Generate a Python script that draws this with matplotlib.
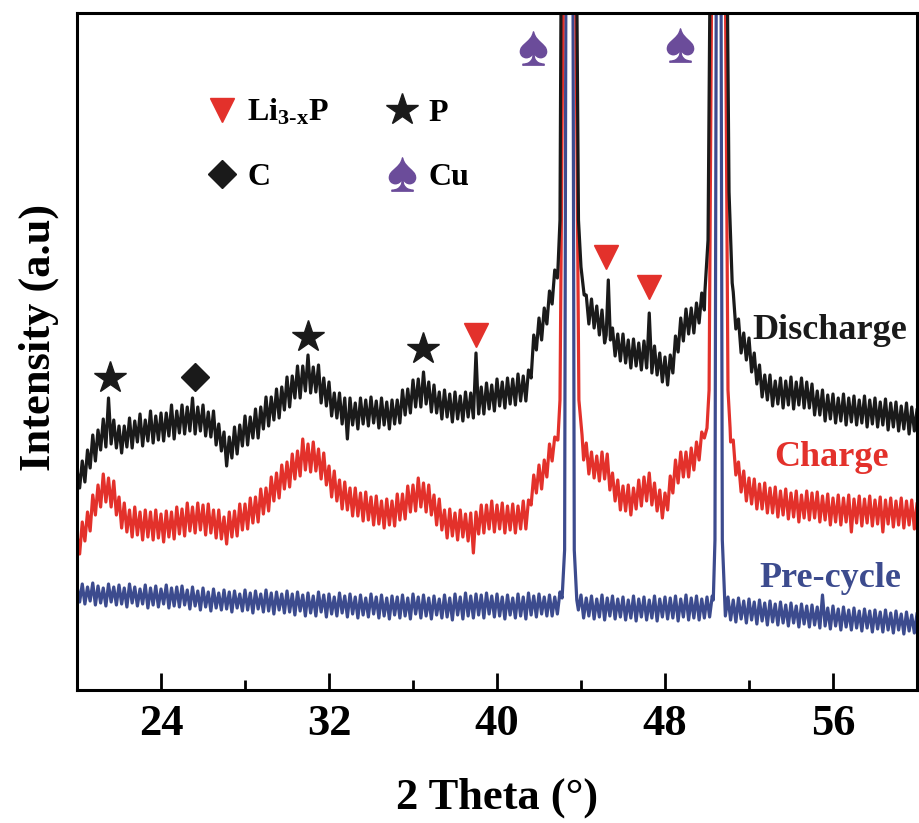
import numpy as np
import matplotlib.pyplot as plt
from matplotlib.lines import Line2D

plt.rcParams['font.family'] = 'Liberation Serif'
plt.rcParams['font.weight'] = 'bold'
plt.rcParams['axes.labelweight'] = 'bold'
plt.rcParams['mathtext.fontset'] = 'custom'
plt.rcParams['mathtext.rm'] = 'Liberation Serif:bold'
plt.rcParams['mathtext.it'] = 'Liberation Serif:bold'
plt.rcParams['mathtext.bf'] = 'Liberation Serif:bold'

# 2 theta (deg): top of the noise band read every 0.25 deg,
# bottom of the band read half way between
two_theta = np.arange(20.0, 60.001, 0.25)
two_theta_mid = two_theta[:-1] + 0.125

# intensities (arbitrary units, traces stacked)
discharge_top = [
    221, 229, 240, 255, 260, 271, 292, 270,   # 20.00
    264, 264, 272, 269, 276, 270, 279, 274,   # 22.00
    277, 277, 285, 279, 285, 283, 292, 283,   # 24.00
    285, 278, 279, 266, 258, 253, 263, 265,   # 26.00
    274, 273, 281, 283, 293, 293, 301, 303,   # 28.00
    313, 314, 324, 324, 335, 323, 325, 312,   # 30.00
    308, 297, 297, 292, 292, 287, 292, 290,   # 32.00
    293, 289, 292, 288, 290, 290, 300, 301,   # 34.00
    310, 311, 318, 308, 305, 298, 300, 296,   # 36.00
    298, 294, 298, 297, 298, 303, 307, 305,   # 38.00
    311, 308, 312, 311, 316, 314, 320, 355,   # 40.00
    372, 382, 399, 420, 600, 1200, 1200, 600,  # 42.00
    428, 395, 391, 384, 380, 364, 362, 356,   # 44.00
    356, 350, 351, 347, 349, 343, 344, 337,   # 46.00
    333, 335, 354, 372, 381, 382, 387, 397,   # 48.00
    500, 1200, 1500, 1200, 600, 398, 371, 357,  # 50.00
    352, 337, 325, 315, 315, 309, 312, 309,   # 52.00
    313, 308, 312, 308, 306, 299, 300, 295,   # 54.00
    296, 292, 296, 292, 294, 290, 294, 290,   # 56.00
    292, 288, 291, 287, 288, 284, 287, 283,   # 58.00
    280,
]
discharge_bottom = [
    202, 208, 222, 229, 240, 243, 246, 242,   # 20.125
    237, 243, 242, 248, 244, 249, 247, 250,
    249, 254, 251, 257, 256, 259, 256, 259,
    254, 253, 245, 239, 224, 232, 236, 244,
    245, 252, 252, 261, 264, 270, 272, 280,
    283, 292, 292, 299, 297, 298, 287, 284,
    274, 272, 266, 251, 265, 261, 266, 264,
    267, 262, 265, 261, 266, 267, 275, 277,
    283, 283, 286, 278, 277, 271, 273, 268,
    271, 269, 273, 272, 276, 276, 281, 279,
    284, 282, 286, 285, 289, 289, 312, 340,
    350, 366, 386, 412, 800, 1500, 800, 470,
    400, 366, 362, 355, 347, 350, 334, 329,
    327, 322, 324, 320, 322, 317, 315, 308,
    305, 317, 338, 349, 356, 357, 367, 380,
    900, 1500, 1500, 900, 460, 361, 337, 330,
    318, 306, 293, 290, 284, 286, 282, 285,
    281, 285, 282, 282, 275, 275, 269, 271,
    267, 269, 265, 268, 265, 267, 263, 266,
    263, 265, 260, 263, 259, 261, 256, 259,
]
charge_top = [
    155, 168, 178, 195, 205, 216, 212, 209,
    193, 187, 180, 183, 178, 180, 178, 180,
    176, 179, 178, 183, 181, 187, 183, 187,
    185, 186, 180, 180, 173, 178, 179, 186,
    186, 192, 193, 201, 202, 213, 217, 225,
    228, 236, 239, 251, 246, 248, 241, 237,
    224, 219, 210, 208, 202, 202, 197, 198,
    193, 194, 189, 191, 189, 196, 196, 204,
    205, 212, 207, 205, 195, 191, 180, 181,
    177, 180, 176, 177, 178, 185, 185, 189,
    185, 187, 184, 186, 184, 189, 190, 215,
    225, 230, 246, 253, 290, 1200, 1500, 1200,
    300, 247, 238, 234, 238, 236, 217, 210,
    204, 205, 202, 210, 213, 217, 207, 200,
    197, 214, 230, 238, 238, 242, 248, 258,
    262, 1000, 1500, 1000, 400, 250, 228, 219,
    212, 211, 206, 207, 202, 203, 199, 201,
    197, 199, 195, 199, 197, 198, 194, 196,
    192, 195, 192, 195, 191, 194, 191, 194,
    190, 193, 190, 192, 189, 192, 189, 190,
    186,
]
charge_bottom = [
    136, 149, 159, 175, 183, 188, 183, 175,
    162, 158, 153, 155, 150, 153, 150, 152,
    148, 153, 151, 156, 154, 159, 157, 160,
    155, 157, 152, 151, 146, 153, 154, 160,
    161, 167, 168, 176, 179, 189, 192, 201,
    203, 211, 214, 220, 218, 219, 211, 205,
    193, 189, 181, 180, 174, 174, 169, 170,
    165, 166, 162, 165, 164, 170, 171, 178,
    179, 183, 178, 175, 165, 160, 152, 154,
    150, 153, 149, 137, 156, 157, 161, 158,
    161, 157, 160, 157, 161, 161, 185, 197,
    201, 213, 229, 250, 600, 1500, 1500, 600,
    230, 216, 212, 209, 211, 200, 189, 180,
    179, 175, 181, 184, 189, 185, 179, 172,
    180, 197, 207, 213, 213, 220, 230, 252,
    500, 1500, 1500, 500, 248, 215, 198, 189,
    186, 181, 181, 177, 177, 173, 175, 171,
    173, 168, 172, 170, 172, 168, 170, 165,
    168, 165, 168, 158, 167, 164, 167, 164,
    166, 158, 166, 163, 165, 162, 165, 161,
]
precycle_top = [
    104, 106, 103, 107, 104, 102, 106, 103,
    105, 102, 106, 103, 101, 105, 102, 104,
    101, 105, 102, 103, 104, 100, 103, 99,
    102, 98, 101, 97, 100, 98, 99, 96,
    100, 97, 99, 96, 100, 97, 98, 96,
    99, 96, 98, 95, 97, 94, 98, 95,
    96, 93, 97, 94, 96, 93, 95, 92,
    96, 93, 95, 92, 94, 93, 95, 92,
    96, 93, 95, 92, 94, 91, 95, 92,
    96, 93, 97, 94, 96, 95, 97, 94,
    96, 93, 95, 92, 96, 93, 97, 94,
    96, 93, 95, 93, 98, 600, 1000, 300,
    95, 92, 94, 91, 95, 92, 94, 91,
    93, 90, 94, 91, 93, 90, 94, 91,
    93, 92, 94, 91, 95, 92, 94, 91,
    93, 94, 1000, 300, 93, 90, 92, 89,
    91, 88, 90, 87, 89, 86, 88, 85,
    87, 84, 86, 84, 85, 83, 95, 82,
    84, 81, 83, 80, 82, 79, 81, 79,
    80, 78, 80, 77, 79, 76, 78, 75,
    76,
]
precycle_bottom = [
    88, 86, 89, 85, 87, 84, 88, 85,
    86, 83, 87, 84, 86, 82, 85, 83,
    86, 82, 84, 83, 85, 81, 84, 80,
    83, 79, 82, 80, 81, 78, 82, 79,
    80, 77, 81, 78, 79, 76, 80, 77,
    78, 75, 79, 74, 77, 74, 78, 73,
    76, 74, 77, 73, 76, 72, 75, 73,
    76, 72, 74, 71, 75, 72, 74, 71,
    76, 72, 74, 71, 75, 72, 73, 70,
    75, 71, 74, 72, 75, 72, 76, 73,
    74, 71, 75, 72, 74, 71, 75, 73,
    76, 74, 74, 76, 80, 1500, 1500, 80,
    72, 74, 71, 73, 70, 74, 71, 73,
    70, 72, 69, 73, 70, 72, 69, 73,
    71, 72, 69, 73, 70, 72, 70, 72,
    73, 600, 600, 74, 70, 68, 71, 67,
    70, 66, 69, 65, 68, 65, 67, 64,
    67, 63, 66, 63, 65, 62, 64, 61,
    64, 60, 63, 60, 62, 59, 62, 58,
    61, 58, 60, 57, 60, 56, 59, 57,
]

# sharp reflections (Cu 111 / 200 and Li3-xP), read point by point
discharge_peaks = [
    ([42.9, 43.0, 43.05, 43.43, 43.8, 43.88, 44.0, 44.15], [420, 470, 700, 2000, 700, 470, 423, 395]),
    ([49.9, 50.05, 50.14, 50.55, 50.97, 51.05, 51.2], [398, 450, 700, 2000, 700, 498, 407]),
    ([38.9, 39.0, 39.1], [285, 337, 285]),
    ([45.2, 45.3, 45.4], [355, 410, 350]),
    ([47.15, 47.25, 47.35], [330, 377, 328]),
]
charge_peaks = [
    ([42.9, 43.0, 43.15, 43.45, 43.75, 43.9, 44.05], [250, 290, 700, 2000, 700, 290, 255]),
    ([50.0, 50.1, 50.22, 50.55, 50.88, 51.0, 51.1], [262, 300, 700, 2000, 700, 300, 262]),
]
precycle_peaks = [
    ([43.1, 43.22, 43.28, 43.45, 43.62, 43.68, 43.8], [92, 140, 700, 2000, 700, 140, 90]),
    ([50.3, 50.38, 50.44, 50.55, 50.67, 50.73, 50.85], [90, 150, 700, 2000, 700, 150, 88]),
]

# phase markers above the reflections
star_pos = [21.55, 31.0, 36.5]
star_int = [312, 353, 341]
diamond_pos = [25.6]
diamond_int = [313]
li3p_pos = [39.0, 45.2, 47.25]
li3p_int = [355, 433, 403]
cu_pos = [41.7, 48.7]
cu_int = [642, 645]

BLACK = '#1a1a1a'
RED = '#e3312b'
BLUE = '#3c4b8e'
PURPLE = '#6b4c9a'


def merge(top, bottom, peaks):
    t = np.concatenate([two_theta, two_theta_mid])
    y = np.array(top + bottom, dtype=float)
    for pt, pv in peaks:
        keep = (t < min(pt)) | (t > max(pt))
        t = np.concatenate([t[keep], pt])
        y = np.concatenate([y[keep], pv])
    order = np.argsort(t)
    return t[order], y[order]


fig = plt.figure(figsize=(9.19, 8.23), dpi=100)
ax = fig.add_axes([0.0838, 0.1616, 0.9140, 0.8226])

for top, bot, pk, col in [(precycle_top, precycle_bottom, precycle_peaks, BLUE),
                          (charge_top, charge_bottom, charge_peaks, RED),
                          (discharge_top, discharge_bottom, discharge_peaks, BLACK)]:
    t, y = merge(top, bot, pk)
    ax.plot(t, y, color=col, lw=2.3)

ax.plot(star_pos, star_int, ls='none', marker='*', ms=24, color=BLACK)
ax.plot(diamond_pos, diamond_int, ls='none', marker='D', ms=14, color=BLACK)
ax.plot(li3p_pos, li3p_int, ls='none', marker='v', ms=17, color=RED)
ax.plot(cu_pos, cu_int, ls='none', marker=r'$\spadesuit$', ms=24, color=PURPLE)

ax.text(55.85, 360, 'Discharge', color=BLACK, fontsize=26, ha='center', va='center')
ax.text(55.95, 233, 'Charge', color=RED, fontsize=26, ha='center', va='center')
ax.text(55.85, 112, 'Pre-cycle', color=BLUE, fontsize=26, ha='center', va='center')

handles = [
    Line2D([], [], ls='none', marker='v', ms=17, color=RED),
    Line2D([], [], ls='none', marker='D', ms=14, color=BLACK),
    Line2D([], [], ls='none', marker='*', ms=24, color=BLACK),
    Line2D([], [], ls='none', marker=r'$\spadesuit$', ms=24, color=PURPLE),
]
labels = ['Li$_{\\mathrm{3\u2010x}}$P', 'C', 'P', 'Cu']
ax.legend(handles, labels, ncol=2, frameon=False, fontsize=23,
          loc='upper left', bbox_to_anchor=(0.119, 0.918),
          handlelength=1.0, handletextpad=0.3, columnspacing=1.8,
          labelspacing=1.1)

ax.set_xlim(20, 60)
ax.set_ylim(0, 677)
ax.set_xticks([24, 32, 40, 48, 56])
ax.set_xticks([28, 36, 44, 52], minor=True)
ax.set_yticks([])
ax.tick_params(axis='x', which='major', direction='in', length=12, width=2,
               labelsize=32, pad=10)
ax.tick_params(axis='x', which='minor', direction='in', length=7, width=2)
for s in ax.spines.values():
    s.set_linewidth(2.2)

ax.set_xlabel('2 Theta (°)', fontsize=32, labelpad=24)
ax.set_ylabel('Intensity (a.u)', fontsize=32)
ax.yaxis.set_label_coords(-0.022, 0.521)

fig.savefig('out.png', dpi=100)
